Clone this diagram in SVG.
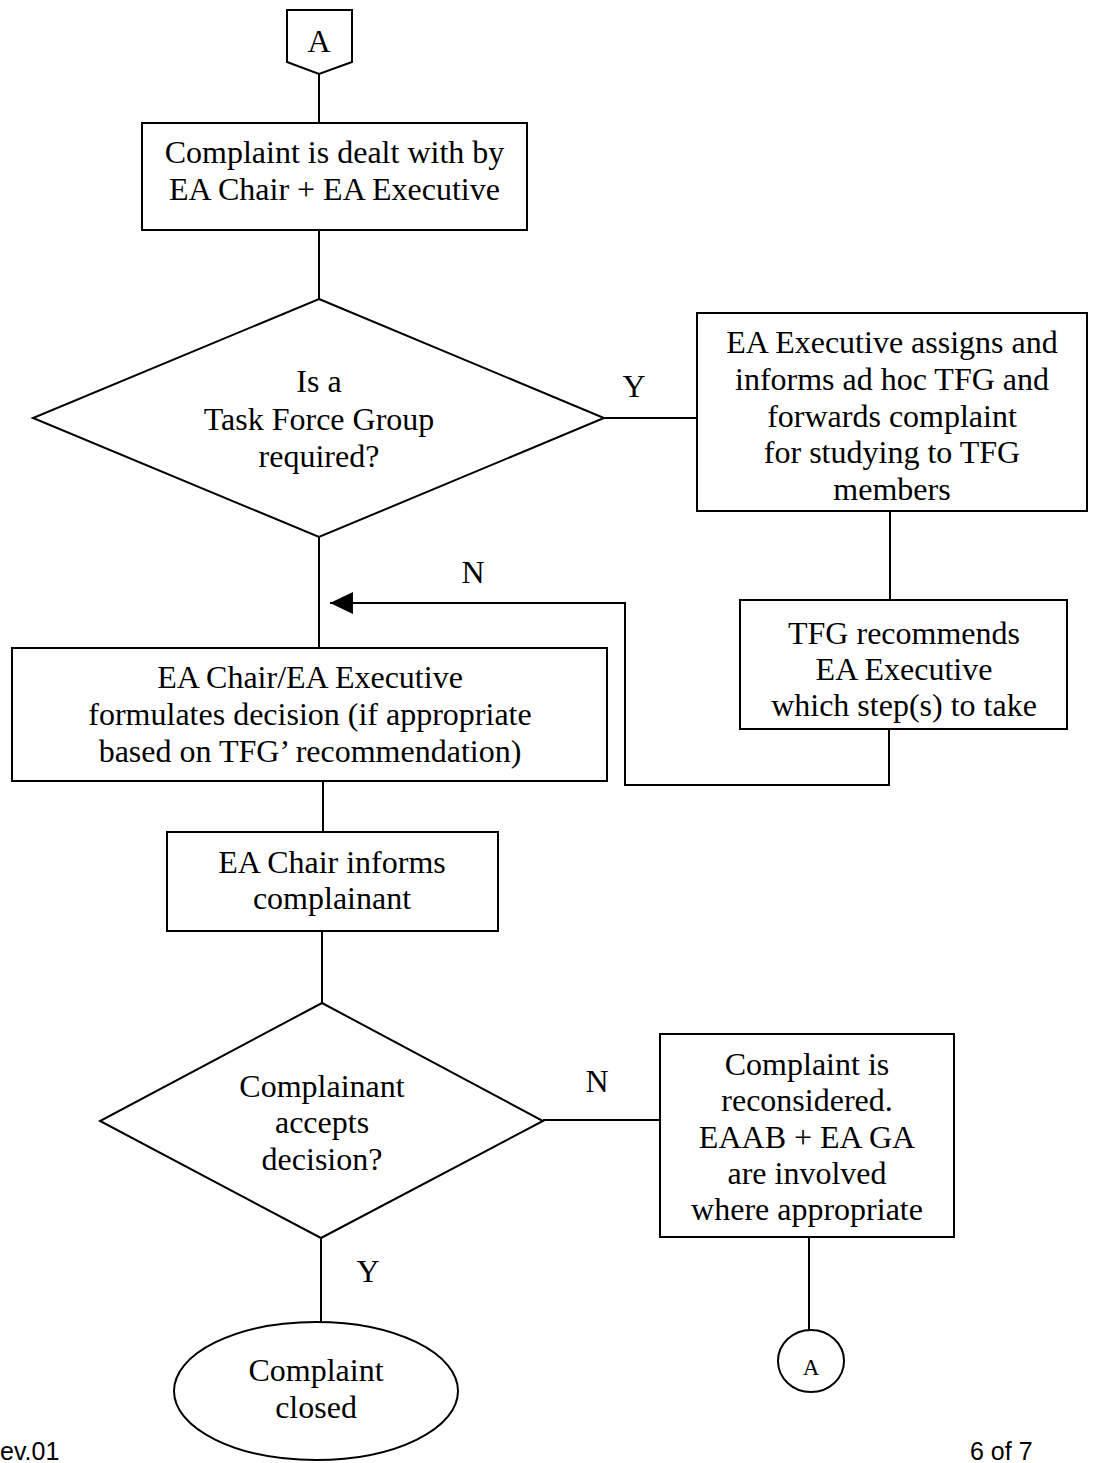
<svg xmlns="http://www.w3.org/2000/svg" width="1095" height="1463" viewBox="0 0 1095 1463">
<style>
.s{fill:#fff;stroke:#000;stroke-width:2}
.c{fill:none;stroke:#000;stroke-width:2}
.t{font-family:"Liberation Serif","Times New Roman",serif;font-size:32px;fill:#000;text-anchor:middle}
.f{font-family:"Liberation Sans",Arial,sans-serif;font-size:25px;fill:#000}
</style>
<defs>
<marker id="ah" markerUnits="userSpaceOnUse" markerWidth="24" markerHeight="24" viewBox="0 0 22 22" refX="21" refY="11" orient="auto">
<path d="M0,1 L21,11 L0,21 Z" fill="#000"/>
</marker>
</defs>
<rect width="1095" height="1463" fill="#fff"/>
<g id="connectors">
<path class="c" d="M319,74 V123"/>
<path class="c" d="M319,230 V299"/>
<path class="c" d="M604,418 H697"/>
<path class="c" d="M319,537 V648"/>
<path class="c" d="M890,511 V600"/>
<path class="c" d="M889,729 V785 H625 V603 H330" marker-end="url(#ah)"/>
<path class="c" d="M323,781 V832"/>
<path class="c" d="M322,931 V1003"/>
<path class="c" d="M543,1120 H660"/>
<path class="c" d="M321,1238 V1322"/>
<path class="c" d="M809,1237 V1330"/>
<text class="t" x="634" y="397">Y</text>
<text class="t" x="473" y="583">N</text>
<text class="t" x="597" y="1092">N</text>
<text class="t" x="368" y="1282">Y</text>
</g>
<g id="start-A">
<polygon class="s" points="287,10 352,10 352,62 319,74 287,62"/>
<text class="t" x="319" y="52">A</text>
</g>
<g id="dealt-with">
<rect class="s" x="142" y="123" width="385" height="107"/>
<text class="t" x="334.5" y="163">Complaint is dealt with by</text>
<text class="t" x="334.5" y="200">EA Chair + EA Executive</text>
</g>
<g id="tfg-required">
<polygon class="s" points="319,299 604,418 319,537 33,418"/>
<text class="t" x="319" y="392">Is a</text>
<text class="t" x="319" y="430">Task Force Group</text>
<text class="t" x="319" y="467">required?</text>
</g>
<g id="assigns-tfg">
<rect class="s" x="697" y="313" width="390" height="198"/>
<text class="t" x="892" y="353">EA Executive assigns and</text>
<text class="t" x="892" y="390">informs ad hoc TFG and</text>
<text class="t" x="892" y="427">forwards complaint</text>
<text class="t" x="892" y="463">for studying to TFG</text>
<text class="t" x="892" y="500">members</text>
</g>
<g id="tfg-recommends">
<rect class="s" x="740" y="600" width="327" height="129"/>
<text class="t" x="904" y="644">TFG recommends</text>
<text class="t" x="904" y="680">EA Executive</text>
<text class="t" x="904" y="716">which step(s) to take</text>
</g>
<g id="formulates-decision">
<rect class="s" x="12" y="648" width="595" height="133"/>
<text class="t" x="310" y="688">EA Chair/EA Executive</text>
<text class="t" x="310" y="725">formulates decision (if appropriate</text>
<text class="t" x="310" y="762">based on TFG’ recommendation)</text>
</g>
<g id="informs-complainant">
<rect class="s" x="167" y="832" width="331" height="99"/>
<text class="t" x="332" y="873">EA Chair informs</text>
<text class="t" x="332" y="909">complainant</text>
</g>
<g id="accepts-decision">
<polygon class="s" points="322,1003 543,1121 321,1238 100,1121"/>
<text class="t" x="322" y="1097">Complainant</text>
<text class="t" x="322" y="1133">accepts</text>
<text class="t" x="322" y="1170">decision?</text>
</g>
<g id="reconsidered">
<rect class="s" x="660" y="1034" width="294" height="203"/>
<text class="t" x="807" y="1075">Complaint is</text>
<text class="t" x="807" y="1111">reconsidered.</text>
<text class="t" x="807" y="1148">EAAB + EA GA</text>
<text class="t" x="807" y="1184">are involved</text>
<text class="t" x="807" y="1220">where appropriate</text>
</g>
<g id="closed">
<ellipse class="s" cx="316" cy="1391" rx="142" ry="69"/>
<text class="t" x="316" y="1381">Complaint</text>
<text class="t" x="316" y="1418">closed</text>
</g>
<g id="end-A">
<ellipse class="s" cx="811" cy="1361" rx="33" ry="31"/>
<text class="t" x="811" y="1375" style="font-size:23px">A</text>
</g>
<g id="footer">
<text class="f" x="0" y="1460">ev.01</text>
<text class="f" x="970" y="1460">6 of 7</text>
</g>
</svg>
